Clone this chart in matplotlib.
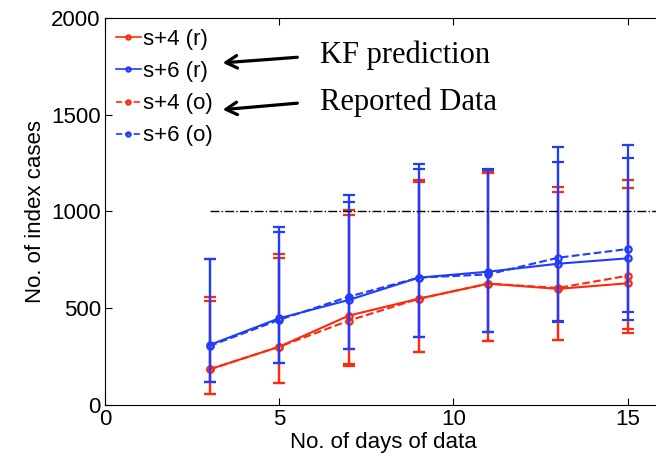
import matplotlib
matplotlib.use('Agg')
import matplotlib.pyplot as plt
import numpy as np

# dias de datos
days = [3, 5, 7, 9, 11, 13, 15]

# medias de cada serie
s4_r = [184, 301, 462, 549, 627, 600, 629]
s6_r = [310, 448, 543, 658, 689, 730, 758]
s4_o = [184, 301, 436, 549, 627, 605, 668]
s6_o = [305, 440, 560, 658, 675, 761, 806]

# limites de las barras de error (inferior, superior)
s4_r_lo = [58, 114, 212, 272, 332, 338, 393]
s4_r_hi = [558, 779, 1008, 1161, 1197, 1125, 1163]
s6_r_lo = [119, 217, 288, 351, 376, 429, 479]
s6_r_hi = [754, 921, 1085, 1247, 1220, 1332, 1342]
s4_o_lo = [58, 114, 202, 275, 332, 338, 370]
s4_o_hi = [537, 758, 982, 1150, 1202, 1101, 1120]
s6_o_lo = [119, 217, 288, 351, 376, 436, 439]
s6_o_hi = [754, 896, 1051, 1221, 1215, 1256, 1278]

threshold = 1000
labels = ['s+4 (r)', 's+6 (r)', 's+4 (o)', 's+6 (o)']

plt.rcParams['font.family'] = ['Liberation Sans', 'DejaVu Sans']

fig = plt.figure(figsize=(6.56, 4.61), dpi=100)
ax = fig.add_axes([0.160, 0.1215, 0.850, 0.8395])

red = '#ff2a10'
blue = '#1f3cff'
series = [
    (s4_r, s4_r_lo, s4_r_hi, red, '-'),
    (s6_r, s6_r_lo, s6_r_hi, blue, '-'),
    (s4_o, s4_o_lo, s4_o_hi, red, '--'),
    (s6_o, s6_o_lo, s6_o_hi, blue, '--'),
]

handles = []
for (y, lo, hi, c, ls), lab in zip(series, labels):
    y = np.array(y)
    yerr = [y - np.array(lo), np.array(hi) - y]
    ax.errorbar(days, y, yerr=yerr, color=c, ecolor=c, elinewidth=1.6,
                capsize=4, capthick=1.6, fmt='none')
    h, = ax.plot(days, y, color=c, ls=ls, lw=1.5, marker='o', ms=4.5,
                 mfc='none', mew=1.6, label=lab)
    handles.append(h)

ax.plot([days[0], 16], [threshold, threshold], color='k', ls='-.', lw=1)

leg = ax.legend(handles=handles, loc='upper left', frameon=False, fontsize=16,
                handlelength=1.1, handletextpad=0.1, labelspacing=0.5,
                borderaxespad=0.2, borderpad=0.3)
for lh in leg.legend_handles:
    lh.set_markersize(3)
    lh.set_linewidth(1.2)

# anotaciones con flechas
arrow = dict(arrowstyle='->, head_length=0.8, head_width=0.45', lw=2.3, color='k')
ax.annotate('', xy=(3.3, 1767), xytext=(5.6, 1798), arrowprops=arrow)
ax.annotate('', xy=(3.3, 1525), xytext=(5.6, 1561), arrowprops=arrow)
ax.text(6.17, 1767, 'KF prediction', fontsize=22, family='Liberation Serif',
        va='baseline')
ax.text(6.17, 1525, 'Reported Data', fontsize=22, family='Liberation Serif',
        va='baseline')

ax.set_xlim(0, 16)
ax.set_ylim(0, 2000)
ax.set_xticks([0, 5, 10, 15])
ax.set_yticks([0, 500, 1000, 1500, 2000])
ax.tick_params(direction='in', top=True, right=True, labelsize=16, length=5,
               pad=3)
ax.set_xlabel('No. of days of data', fontsize=16, labelpad=1)
ax.set_ylabel('No. of index cases', fontsize=16, labelpad=4)

fig.savefig('out.png', dpi=100)
